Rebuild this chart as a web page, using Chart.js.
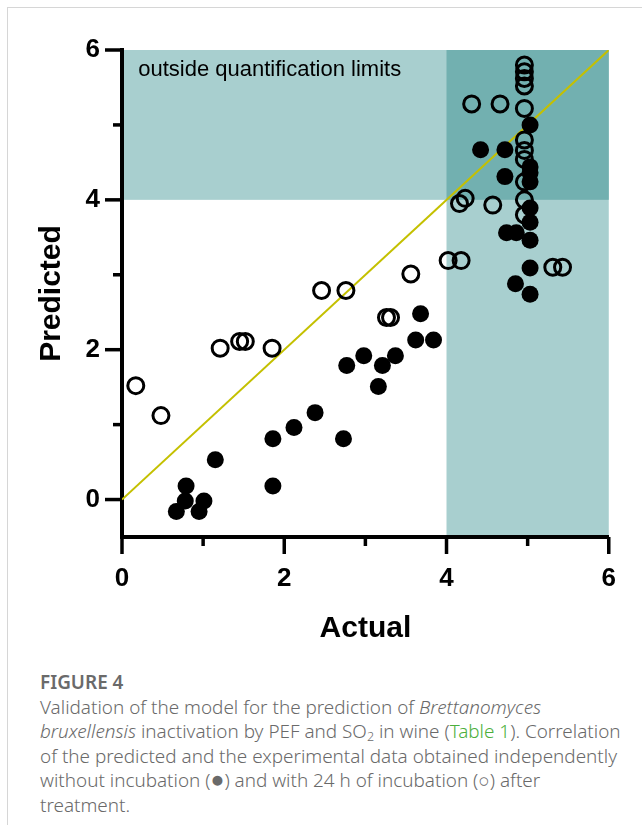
<!DOCTYPE html>
<html>
<head>
<meta charset="utf-8">
<script src="https://cdn.jsdelivr.net/npm/chart.js@4.4.0/dist/chart.umd.min.js"></script>
<style>
  body { margin: 0; background: #fff; width: 642px; height: 825px; overflow: hidden; position: relative; font-family: "Noto Sans", sans-serif; }
  .card { position: absolute; left: 7px; top: 7px; width: 700px; height: 900px; border: 1px solid #d6d6d6; }
  .box { position: absolute; left: 0; top: 0; width: 642px; height: 660px; }
  .caption { position: absolute; left: 40px; top: 670px; color: #6a6a6a; font-size: 18.9px; line-height: 24.6px; white-space: nowrap; font-weight: 300; }
  .caption b { font-weight: 600; font-size: 18.9px; }
  .caption a { color: #4caf3c; text-decoration: none; }
  .caption sub { font-size: 12.5px; line-height: 0; vertical-align: -3px; }
  .caption .dot { font-size: 23px; line-height: 0; }
</style>
</head>
<body>
<div class="card"></div>
<div class="box"><canvas id="fig4" width="642" height="660"></canvas></div>
<div class="caption">
  <b>FIGURE 4</b><br>
  Validation of the model for the prediction of <i>Brettanomyces</i><br>
  <i>bruxellensis</i> inactivation by PEF and SO<sub>2</sub> in wine (<a>Table 1</a>). Correlation<br>
  of the predicted and the experimental data obtained independently<br>
  without incubation (<span class="dot">&#9679;</span>) and with 24 h of incubation (&#9675;) after<br>
  treatment.
</div>
<script>
// without incubation (filled)
var actualNoInc = [0.67, 0.78, 0.79, 0.95, 1.01, 1.15, 1.86, 1.86, 2.12, 2.38, 2.73, 2.77, 2.98, 3.16, 3.21, 3.37, 3.62, 3.68, 3.84,
  4.42, 4.72, 4.72, 4.74, 4.86, 4.85, 5.03, 5.03, 5.03, 5.03, 5.03, 5.03, 5.03, 5.03, 5.03];
var predNoInc = [-0.16, -0.02, 0.18, -0.16, -0.02, 0.53, 0.81, 0.18, 0.96, 1.16, 0.81, 1.79, 1.92, 1.51, 1.79, 1.92, 2.13, 2.48, 2.13,
  4.67, 4.67, 4.31, 3.56, 3.56, 2.88, 5.0, 4.44, 4.36, 4.24, 3.89, 3.70, 3.46, 3.09, 2.74];

// 24 h incubation (open)
var actualInc = [0.17, 0.48, 1.21, 1.45, 1.52, 1.85, 2.46, 2.76, 3.26, 3.31, 3.56, 4.02, 4.18, 4.16, 4.23, 4.57, 4.31, 4.66, 5.31, 5.43,
  4.96, 4.96, 4.96, 4.96, 4.96, 4.96, 4.96, 4.96, 4.96, 4.96, 4.96];
var predInc = [1.52, 1.12, 2.02, 2.11, 2.11, 2.02, 2.79, 2.79, 2.43, 2.43, 3.01, 3.19, 3.19, 3.95, 4.02, 3.93, 5.28, 5.28, 3.10, 3.10,
  5.80, 5.71, 5.62, 5.52, 5.22, 4.80, 4.66, 4.54, 4.24, 4.00, 3.80];

var identity = [0, 6];
var quantLimit = 4;
var majorTicks = [0, 2, 4, 6];
var minorTicks = [1, 3, 5];

function pts(xs, ys) {
  return xs.map(function (x, i) { return { x: x, y: ys[i] }; });
}

var FONT = '"Liberation Sans", Arial, sans-serif';

// shaded zones, note text and the axis tick marks
var zonesPlugin = {
  id: 'zones',
  beforeDraw: function (chart) {
    var c = chart.ctx, xs = chart.scales.x, ys = chart.scales.y;
    var xL = xs.getPixelForValue(xs.min), xQ = xs.getPixelForValue(quantLimit), xR = xs.getPixelForValue(xs.max);
    var yT = ys.getPixelForValue(ys.max), yQ = ys.getPixelForValue(quantLimit), yB = ys.getPixelForValue(ys.min);
    c.save();
    c.fillStyle = '#a8cfcf';
    c.fillRect(xL, yT, xR - xL, yQ - yT);
    c.fillRect(xQ, yQ, xR - xQ, yB - yQ);
    c.fillStyle = '#72b0b0';
    c.fillRect(xQ, yT, xR - xQ, yQ - yT);
    c.fillStyle = '#000';
    c.font = '22px ' + FONT;
    c.textBaseline = 'middle';
    c.fillText('outside quantification limits', xs.getPixelForValue(0.2), ys.getPixelForValue(5.73));
    c.restore();
  },
  afterDraw: function (chart) {
    var c = chart.ctx, xs = chart.scales.x, ys = chart.scales.y;
    var x0 = xs.getPixelForValue(0), y0 = ys.getPixelForValue(ys.min);
    c.save();
    c.strokeStyle = '#000';
    c.lineWidth = 3.5;
    c.lineCap = 'butt';
    majorTicks.concat(minorTicks).forEach(function (v) {
      var len = majorTicks.indexOf(v) >= 0 ? 17 : 9;
      var py = ys.getPixelForValue(v);
      c.beginPath(); c.moveTo(x0, py); c.lineTo(x0 - len, py); c.stroke();
      var px = xs.getPixelForValue(v);
      c.beginPath(); c.moveTo(px, y0); c.lineTo(px, y0 + len); c.stroke();
    });
    c.restore();
  }
};

function onlyMajor(scale) {
  scale.ticks = majorTicks.map(function (v) { return { value: v }; });
}

var ctx = document.getElementById('fig4').getContext('2d');
var chart = new Chart(ctx, {
  type: 'scatter',
  data: {
    datasets: [
      {
        label: 'without incubation',
        data: pts(actualNoInc, predNoInc),
        pointRadius: 8.5,
        pointBackgroundColor: '#000',
        pointBorderColor: '#000',
        pointBorderWidth: 0,
        order: 1
      },
      {
        label: '24 h incubation',
        data: pts(actualInc, predInc),
        pointRadius: 8,
        pointBackgroundColor: 'rgba(0,0,0,0)',
        pointBorderColor: '#000',
        pointBorderWidth: 3,
        order: 2
      },
      {
        type: 'line',
        label: 'y = x',
        data: pts(identity, identity),
        borderColor: '#c4c000',
        borderWidth: 2,
        pointRadius: 0,
        order: 3
      }
    ]
  },
  options: {
    responsive: false,
    animation: false,
    layout: { padding: { left: 0, top: 50, right: 33, bottom: 0 } },
    plugins: { legend: { display: false }, tooltip: { enabled: false } },
    scales: {
      x: {
        type: 'linear',
        min: 0,
        max: 6,
        afterBuildTicks: onlyMajor,
        afterFit: function (s) { s.height = 123; },
        grid: { display: false, drawTicks: false },
        border: { display: true, width: 4, color: '#000' },
        ticks: { color: '#000', padding: 26, maxRotation: 0, font: { family: FONT, size: 26, weight: 'bold' } },
        title: { display: true, text: 'Actual', color: '#000', padding: { bottom: 13 }, font: { family: FONT, size: 30, weight: 'bold' } }
      },
      y: {
        min: -0.5,
        max: 6,
        afterBuildTicks: onlyMajor,
        afterFit: function (s) { s.width = 122; },
        grid: { display: false, drawTicks: false },
        border: { display: true, width: 4, color: '#000' },
        ticks: { color: '#000', padding: 22, font: { family: FONT, size: 26, weight: 'bold' } },
        title: { display: true, text: 'Predicted', color: '#000', padding: { top: 34 }, font: { family: FONT, size: 30, weight: 'bold' } }
      }
    }
  },
  plugins: [zonesPlugin]
});
</script>
</body>
</html>
